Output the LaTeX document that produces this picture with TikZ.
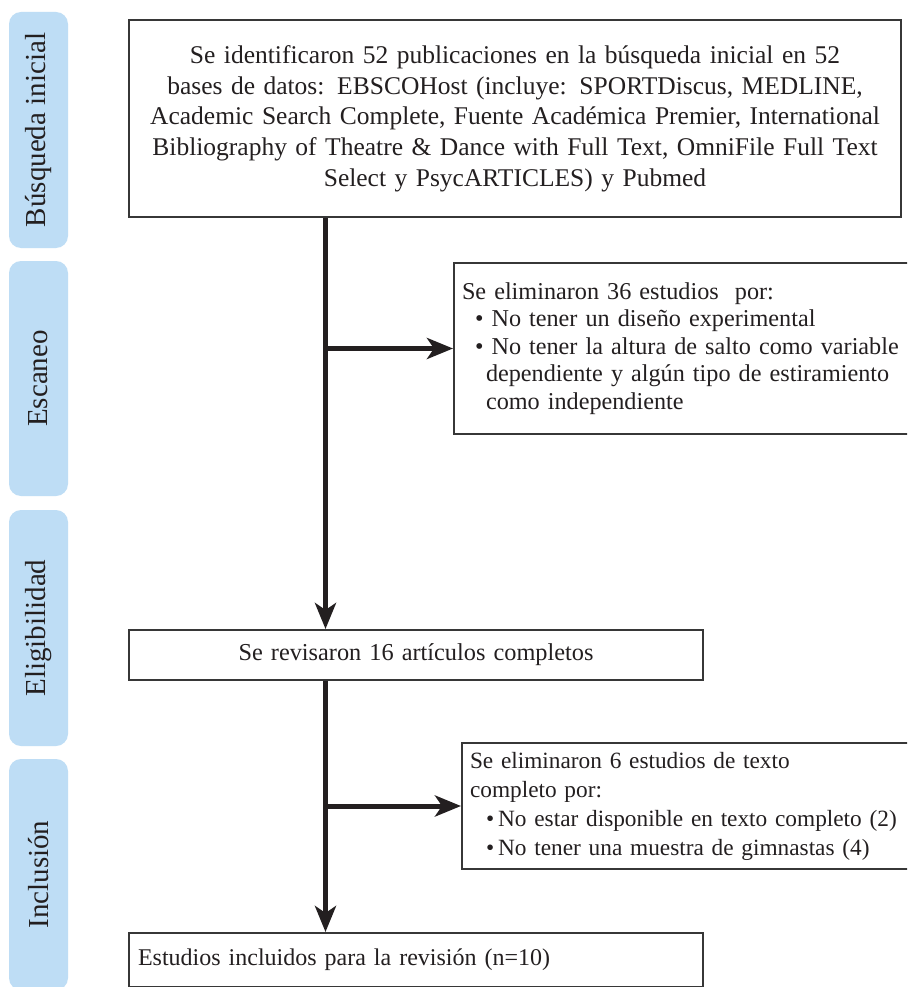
\documentclass[tikz,border=0pt]{standalone}
\usepackage{fontspec}
\setmainfont{Liberation Serif}
\usetikzlibrary{arrows.meta}
\definecolor{barblue}{RGB}{190,221,245}
\definecolor{ink}{RGB}{35,31,32}
\definecolor{edgegray}{RGB}{55,55,55}
\begin{document}
\begin{tikzpicture}[x=1pt,y=-1pt,
  phase/.style={fill=barblue, draw=none, rounded corners=12pt, rotate=90,
    minimum height=59pt, inner sep=0pt, text=ink,
    font=\fontsize{29}{30}\selectfont},
  box/.style={draw=edgegray, line width=2pt, anchor=north west, inner ysep=0pt,
    inner xsep=8pt, text=ink},
  arr/.style={draw=ink, line width=5pt, -{Stealth[length=26pt,width=21pt,inset=7pt]}}
]
\useasboundingbox (0,0) rectangle (907,987);
\clip (0,0) rectangle (907,987);
\fill[white] (0,0) rectangle (907,987);

% phase bars
\node[phase, minimum width=236pt] (p1) at (38.5,130) {Búsqueda inicial};
\node[phase, minimum width=235pt] (p2) at (38.5,378.5) {Escaneo};
\node[phase, minimum width=236pt] (p3) at (38.5,628) {Eligibilidad};
\node[phase, minimum width=231pt] (p4) at (38.5,874.5) {Inclusión};

% boxes
\node[box, minimum width=772pt, minimum height=197pt, inner xsep=4pt, text width=764pt,
      align=center, font=\fontsize{25.5}{30.7}\selectfont] (b1) at (128,19)
  {Se identificaron 52 publicaciones en la búsqueda inicial en 52\\
   bases de datos: EBSCOHost (incluye: SPORTDiscus, MEDLINE,\\
   Academic Search Complete, Fuente Académica Premier, International\\
   Bibliography of Theatre \& Dance with Full Text, OmniFile Full Text\\
   Select y PsycARTICLES) y Pubmed};

\node[box, minimum width=467pt, minimum height=171pt, text width=451pt,
      align=left, font=\fontsize{24.2}{27.5}\selectfont] (b2) at (453,262)
  {Se eliminaron 36 estudios\ \ por:\\
   \hspace*{13pt}\textbullet\ No tener un diseño experimental\\
   \hspace*{13pt}\textbullet\ No tener la altura de salto como variable\\
   \hspace*{24pt}dependiente y algún tipo de estiramiento\\
   \hspace*{24pt}como independiente};

\node[box, minimum width=574pt, minimum height=50pt, text width=558pt,
      align=center, font=\fontsize{24.3}{28}\selectfont] (b3) at (128,629)
  {Se revisaron 16 artículos completos};

\node[box, minimum width=459pt, minimum height=126pt, text width=443pt,
      align=left, font=\fontsize{23.3}{29}\selectfont] (b4) at (461,742)
  {Se eliminaron 6 estudios de texto\\
   completo por:\\
   \hspace*{16pt}\textbullet\hspace{4pt}No estar disponible en texto completo (2)\\
   \hspace*{16pt}\textbullet\hspace{4pt}No tener una muestra de gimnastas (4)};

\node[box, minimum width=574pt, minimum height=54pt, inner xsep=9pt, text width=556pt,
      align=left, font=\fontsize{24}{28}\selectfont] (b5) at (128,932)
  {Estudios incluidos para la revisión (n=10)};

% connectors
\coordinate (t) at (325.5,0);
\draw[arr] (t |- b1.south) -- (t |- b3.north);
\draw[arr] (t |- b2.west) -- (b2.west);
\draw[arr] (t |- b3.south) -- (t |- b5.north);
\draw[arr] (t |- b4.west) -- (b4.west);
\end{tikzpicture}
\end{document}
